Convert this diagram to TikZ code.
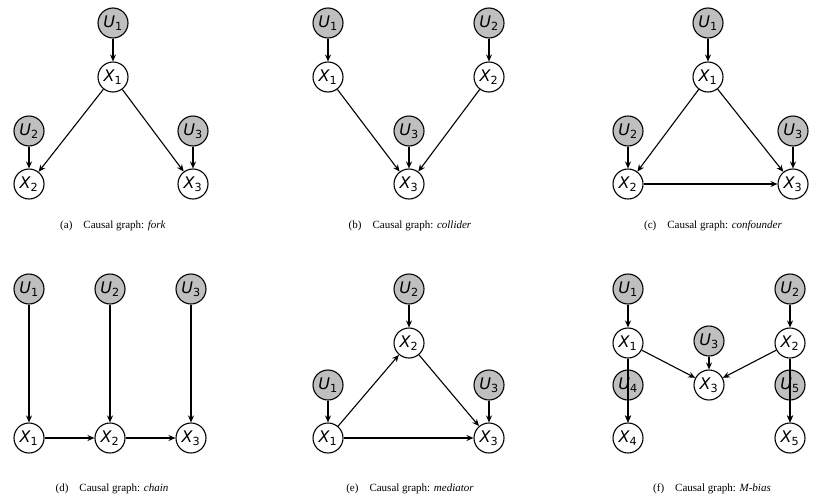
\documentclass[tikz,border=0pt]{standalone}
\usepackage{fontspec}
\setmainfont{Liberation Serif}
\newfontfamily\dv{DejaVu Sans}
\usetikzlibrary{arrows.meta}
\newcommand{\vv}[2]{{\dv\itshape #1}\textsubscript{\dv #2}}
\tikzset{
 var/.style={circle,draw,line width=1.1pt,minimum size=30pt,inner sep=0pt,fill=white,font=\fontsize{16}{16}\selectfont},
 ex/.style={var,fill=gray!50},
 arr/.style={-{Stealth[length=7pt,width=6pt]},line width=1.1pt},
 captext/.style={font=\fontsize{11}{13}\selectfont}
}
\begin{document}
\begin{tikzpicture}[x=1pt,y=1pt]
\useasboundingbox (0,0) rectangle (830,-501);
% (a)
\node[ex] (aU1) at (113,-23) {\vv U1}; \node[var] (aX1) at (113,-77) {\vv X1};
\node[ex] (aU2) at (29,-131) {\vv U2}; \node[var] (aX2) at (29,-184) {\vv X2};
\node[ex] (aU3) at (193,-131) {\vv U3}; \node[var] (aX3) at (193,-184) {\vv X3};
\draw[arr] (aU1)--(aX1); \draw[arr] (aU2)--(aX2); \draw[arr] (aU3)--(aX3);
\draw[arr] (aX1)--(aX2); \draw[arr] (aX1)--(aX3);
\node[captext] (ca) at (113,-226) {(a)\quad Causal graph: \textit{fork}};
% (b)
\node[ex] (bU1) at (328,-23) {\vv U1}; \node[var] (bX1) at (328,-77) {\vv X1};
\node[ex] (bU2) at (489,-23) {\vv U2}; \node[var] (bX2) at (489,-77) {\vv X2};
\node[ex] (bU3) at (409,-131) {\vv U3}; \node[var] (bX3) at (409,-184) {\vv X3};
\draw[arr] (bU1)--(bX1); \draw[arr] (bU2)--(bX2); \draw[arr] (bU3)--(bX3);
\draw[arr] (bX1)--(bX3); \draw[arr] (bX2)--(bX3);
\node[captext] (cb) at (410,-226) {(b)\quad Causal graph: \textit{collider}};
% (c)
\node[ex] (cU1) at (708,-23) {\vv U1}; \node[var] (cX1) at (708,-77) {\vv X1};
\node[ex] (cU2) at (628,-131) {\vv U2}; \node[var] (cX2) at (628,-184) {\vv X2};
\node[ex] (cU3) at (793,-131) {\vv U3}; \node[var] (cX3) at (793,-184) {\vv X3};
\draw[arr] (cU1)--(cX1); \draw[arr] (cU2)--(cX2); \draw[arr] (cU3)--(cX3);
\draw[arr] (cX1)--(cX2); \draw[arr] (cX1)--(cX3); \draw[arr] (cX2)--(cX3);
\node[captext] (cc) at (713,-226) {(c)\quad Causal graph: \textit{confounder}};
% (d)
\node[ex] (dU1) at (29,-289) {\vv U1}; \node[var] (dX1) at (29,-438) {\vv X1};
\node[ex] (dU2) at (110,-289) {\vv U2}; \node[var] (dX2) at (110,-438) {\vv X2};
\node[ex] (dU3) at (191,-289) {\vv U3}; \node[var] (dX3) at (191,-438) {\vv X3};
\draw[arr] (dU1)--(dX1); \draw[arr] (dU2)--(dX2); \draw[arr] (dU3)--(dX3);
\draw[arr] (dX1)--(dX2); \draw[arr] (dX2)--(dX3);
\node[captext] (cd) at (112,-489) {(d)\quad Causal graph: \textit{chain}};
% (e)
\node[ex] (eU2) at (409,-289) {\vv U2}; \node[var] (eX2) at (409,-343) {\vv X2};
\node[ex] (eU1) at (328,-385) {\vv U1}; \node[var] (eX1) at (328,-438) {\vv X1};
\node[ex] (eU3) at (489,-385) {\vv U3}; \node[var] (eX3) at (489,-438) {\vv X3};
\draw[arr] (eU1)--(eX1); \draw[arr] (eU2)--(eX2); \draw[arr] (eU3)--(eX3);
\draw[arr] (eX1)--(eX2); \draw[arr] (eX2)--(eX3); \draw[arr] (eX1)--(eX3);
\node[captext] (ce) at (410,-489) {(e)\quad Causal graph: \textit{mediator}};
% (f)
\node[ex] (fU1) at (628,-289) {\vv U1}; \node[var] (fX1) at (628,-343) {\vv X1};
\node[ex] (fU2) at (790,-289) {\vv U2}; \node[var] (fX2) at (790,-343) {\vv X2};
\node[ex] (fU3) at (709,-341) {\vv U3}; \node[var] (fX3) at (709,-385) {\vv X3};
\node[ex] (fU4) at (628,-385) {\vv U4}; \node[var] (fX4) at (628,-438) {\vv X4};
\node[ex] (fU5) at (790,-385) {\vv U5}; \node[var] (fX5) at (790,-438) {\vv X5};
\draw[arr] (fU1)--(fX1); \draw[arr] (fU2)--(fX2); \draw[arr] (fU3)--(fX3);
\draw[arr] (fU4)--(fX4); \draw[arr] (fU5)--(fX5);
\draw[arr] (fX1)--(fX3); \draw[arr] (fX2)--(fX3);
\draw[arr] (fX1)--(fX4); \draw[arr] (fX2)--(fX5);
\node[captext] (cf) at (712,-489) {(f)\quad Causal graph: \textit{M-bias}};
\end{tikzpicture}
\end{document}
